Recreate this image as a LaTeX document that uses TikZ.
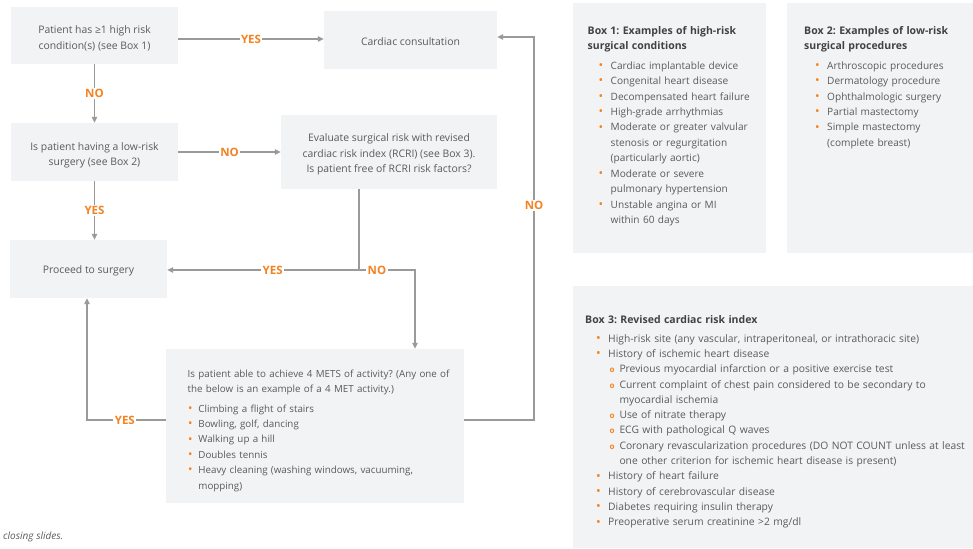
\documentclass[tikz,border=0pt]{standalone}
\usepackage{fontspec}
\setmainfont{Open Sans}
\usetikzlibrary{arrows.meta,positioning,calc}
\definecolor{boxfill}{HTML}{F2F3F5}
\definecolor{txt}{HTML}{5A5A5A}
\definecolor{head}{HTML}{424242}
\definecolor{accent}{HTML}{F58220}
\definecolor{linegray}{HTML}{9A9A9A}
\frenchspacing
\newcommand\bul{\textcolor{accent}{\raisebox{-0.2pt}{\scalebox{1.2}{•}}}}
\newcommand\li[1]{\par\hangindent=23pt\hangafter=1\noindent\hspace*{11pt}\makebox[12pt][l]{\bul}#1\par}
\newcommand\sli[1]{\par\hangindent=34.3pt\hangafter=1\noindent\hspace*{24.5pt}\makebox[9.8pt][l]{\textcolor{accent}{\fontsize{8}{8}\selectfont\bfseries o}}#1\par}
\newcommand\mli[1]{\par\hangindent=10.7pt\hangafter=1\noindent\hspace*{0.4pt}\makebox[10.3pt][l]{\bul}#1\par}
\begin{document}
\begin{tikzpicture}[x=1pt,y=-1pt,
  fbox/.style={fill=boxfill, draw=none, inner sep=0pt},
  ftext/.style={inner sep=0pt, align=center, text=txt,
    font=\fontsize{10.4}{15.4}\selectfont},
  ibox/.style={fill=boxfill, draw=none, inner sep=0pt},
  itext/.style={anchor=north west, inner sep=0pt, align=left, text=txt},
  conn/.style={draw=linegray, line width=1.2pt},
  arr/.style={conn, -{Triangle[width=5.5pt,length=6pt]}},
  lbl/.style={fill=white, text=accent, inner sep=1.5pt, font=\bfseries\fontsize{11.5}{13}\selectfont}]
\useasboundingbox (0,0) rectangle (973,548);

% flowchart boxes
\node[fbox, minimum width=167pt, minimum height=57pt] (A) at (94.5,35.5) {};
\node[ftext] (At) at ([yshift=-3pt]A.center) {Patient has ≥1 high risk\\condition(s) (see Box 1)};
\node[fbox, minimum width=173pt, minimum height=58pt] (C) at (410.5,40) {};
\node[ftext] (Ct) at ([yshift=-2pt]C.center) {Cardiac consultation};
\node[fbox, minimum width=167pt, minimum height=58pt] (B) at (94.5,152) {};
\node[ftext] (Bt) at ([yshift=-3pt]B.center) {Is patient having a low-risk\\surgery (see Box 2)};
\node[fbox, minimum width=216pt, minimum height=74pt] (E) at (389,152) {};
\node[ftext] (Et) at ([yshift=-2.5pt]E.center) {Evaluate surgical risk with revised\\cardiac risk index (RCRI) (see Box 3).\\Is patient free of RCRI risk factors?};
\node[fbox, minimum width=157pt, minimum height=58pt] (P) at (88.5,269) {};
\node[ftext] (Pt) at ([yshift=-2pt]P.center) {Proceed to surgery};
\node[ibox, minimum width=298pt, minimum height=154pt] (M) at (315,426) {};
\node[itext, text width=272pt, font=\fontsize{9.8}{15.4}\selectfont] (Mt) at (187.5,369.5)
  {Is patient able to achieve 4 METS of activity? (Any one of\newline the below is an example of a 4 MET activity.)\par\vspace{4pt}
   \mli{Climbing a flight of stairs}
   \mli{Bowling, golf, dancing}
   \mli{Walking up a hill}
   \mli{Doubles tennis}
   \mli{Heavy cleaning (washing windows, vacuuming,\newline mopping)}};

% info boxes
\node[ibox, minimum width=193pt, minimum height=250pt] (B1) at (669.5,128) {};
\node[itext, text width=180pt, font=\fontsize{10.1}{15.45}\selectfont] (B1t) at (587.5,26.5)
  {{\color{head}\bfseries\fontsize{10.5}{15}\selectfont Box 1: Examples of high-risk\\surgical conditions\par}\vspace{4pt}
   \li{Cardiac implantable device}
   \li{Congenital heart disease}
   \li{Decompensated heart failure}
   \li{High-grade arrhythmias}
   \li{Moderate or greater valvular\newline stenosis or regurgitation\newline (particularly aortic)}
   \li{Moderate or severe\newline pulmonary hypertension}
   \li{Unstable angina or MI\newline within 60 days}};

\node[ibox, minimum width=186pt, minimum height=250pt] (B2) at (880,128) {};
\node[itext, text width=168pt, font=\fontsize{10.1}{15.45}\selectfont] (B2t) at (804,26.5)
  {{\color{head}\bfseries\fontsize{10.5}{15}\selectfont Box 2: Examples of low-risk\\surgical procedures\par}\vspace{4pt}
   \li{Arthroscopic procedures}
   \li{Dermatology procedure}
   \li{Ophthalmologic surgery}
   \li{Partial mastectomy}
   \li{Simple mastectomy\newline (complete breast)}};

\node[ibox, minimum width=400pt, minimum height=262pt] (B3) at (773,417) {};
\node[itext, text width=388pt, font=\fontsize{10.3}{15.33}\selectfont] (B3t) at (585,315.5)
  {{\color{head}\bfseries\fontsize{10.5}{15}\selectfont Box 3: Revised cardiac risk index\par}\vspace{3pt}
   \li{High-risk site (any vascular, intraperitoneal, or intrathoracic site)}
   \li{History of ischemic heart disease}
   \sli{Previous myocardial infarction or a positive exercise test}
   \sli{Current complaint of chest pain considered to be secondary to\newline myocardial ischemia}
   \sli{Use of nitrate therapy}
   \sli{ECG with pathological Q waves}
   \sli{Coronary revascularization procedures (DO NOT COUNT unless at least\newline one other criterion for ischemic heart disease is present)}
   \li{History of heart failure}
   \li{History of cerebrovascular disease}
   \li{Diabetes requiring insulin therapy}
   \li{Preoperative serum creatinine >2 mg/dl}};

% footer
\node[anchor=west, inner sep=0pt, text=txt, font=\itshape\fontsize{10}{12}\selectfont] (foot) at (3,537) {closing slides.};

% connectors
\coordinate (ya) at (0,39);
\draw[arr] (A.east |- ya) -- node[lbl]{YES} (ya -| C.west);
\draw[arr] (A.south) -- node[lbl]{NO} (A.south |- B.north);
\draw[arr] (B.east) -- node[lbl]{NO} (E.west);
\draw[arr] (B.south) -- node[lbl]{YES} (B.south |- P.north);

\coordinate (J) at (359,270);
\coordinate (K) at (415,270);
\draw[conn] (E.south -| J) -- (J);
\draw[arr] (J) -- node[lbl,pos=0.45]{YES} (J -| P.east);
\draw[arr] (J) -- node[lbl,pos=0.32]{NO} (K) -- (K |- M.north);

\coordinate (L) at (87,420);
\draw[arr] (M.west |- L) -- node[lbl,pos=0.52]{YES} (L) -- (L |- P.south);

\coordinate (R1) at (534,420);
\coordinate (R2) at (534,37);
\draw[arr] (M.east |- R1) -- (R1) -- node[lbl,pos=0.56]{NO} (R2) -- (R2 -| C.east);
\end{tikzpicture}
\end{document}
